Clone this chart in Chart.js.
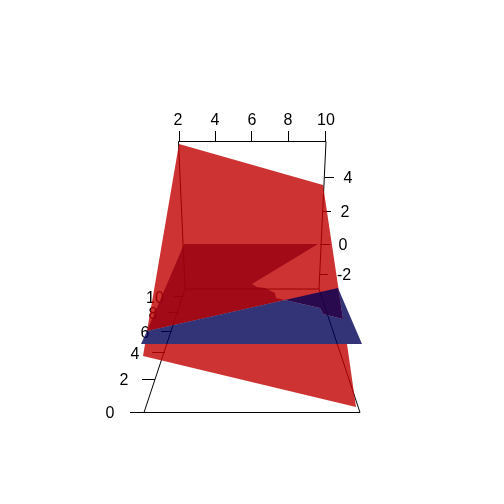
<!DOCTYPE html>
<html>
<head>
<meta charset="utf-8">
<style>
  html, body { margin: 0; padding: 0; background: #fff; }
  canvas { display: block; }
</style>
<script src="https://cdn.jsdelivr.net/npm/chart.js@4/dist/chart.umd.min.js"></script>
</head>
<body>
<canvas id="myChart" width="504" height="504"></canvas>
<script>
// tick labels of the three axes
const xTicks = ['2', '4', '6', '8', '10'];
const yTicks = ['0', '2', '4', '6', '8', '10'];
const zTicks = ['4', '2', '0', '-2'];

// where the labels land on the projected picture plane
const xTickAnchorX = [178, 215, 252, 288, 326];
const xTickAnchorY = [121, 121, 121, 121, 121];
const yTickAnchorX = [110, 124, 135, 145, 153, 155];
const yTickAnchorY = [414, 381, 355, 334, 315, 299];
const zTickAnchorX = [348, 345, 343, 344];
const zTickAnchorY = [179, 213, 246, 276];

// red plane, split above and below the blue band
const redUpperX = [179, 323, 343, 323, 320, 285, 147];
const redUpperY = [144, 185, 319, 314, 308, 300, 331];
const redLowerX = [145, 347, 356, 143];
const redLowerY = [344, 344, 407, 356];

// second red plane, seen through the first
const darkRedX = [184, 318, 252, 257, 265, 275, 276, 285, 147];
const darkRedY = [244, 244, 284, 287, 288, 293, 298, 300, 331];

// blue plane, and the part of it lying over the red
const blueX = [147, 285, 320, 323, 343, 338, 362, 141];
const blueY = [331, 300, 308, 314, 319, 288, 344, 344];
const blueOverRedX = [285, 338, 343, 323, 320];
const blueOverRedY = [300, 288, 319, 314, 308];

// box edges and tick marks, null breaks the line
const boxX = [178.5, 326, 319, 185, 178.5, null, 144, 360, 319, null, 144, 185];
const boxY = [141.5, 141.5, 289, 289, 141.5, null, 412.5, 412.5, 289, null, 412.5, 289];
const tickX = [
  179.5, 179.5, null, 215.5, 215.5, null, 251.5, 251.5, null, 288.5, 288.5, null, 325.5, 325.5, null,
  325, 334, null, 322, 331, null, 320, 330, null, 319, 328, null,
  130, 144, null, 142, 155, null, 152, 165, null, 161, 172, null, 168, 179, null, 174, 183
];
const tickY = [
  131, 141, null, 131, 141, null, 131, 141, null, 131, 141, null, 131, 141, null,
  177.5, 177.5, null, 211.5, 211.5, null, 244.5, 244.5, null, 274.5, 274.5, null,
  412.5, 412.5, null, 379.5, 379.5, null, 352.5, 352.5, null, 331.5, 331.5, null, 312.5, 312.5, null, 296.5, 296.5
];

function toPoints(xs, ys) {
  return xs.map((x, i) => ({ x: x, y: ys[i] }));
}

function polygon(xs, ys, color) {
  const points = toPoints(xs, ys);
  points.push(points[0]);
  return {
    data: points,
    showLine: true,
    fill: 'shape',
    backgroundColor: color,
    borderWidth: 0,
    pointRadius: 0,
    tension: 0,
    clip: false
  };
}

function lines(xs, ys) {
  return {
    data: toPoints(xs, ys),
    showLine: true,
    fill: false,
    borderColor: '#000',
    borderWidth: 1,
    pointRadius: 0,
    tension: 0,
    spanGaps: false,
    clip: false
  };
}

// labels go under the planes, the reference shows them tinted by the red
const tickLabels = {
  id: 'tickLabels',
  beforeDatasetsDraw(chart) {
    const c = chart.ctx;
    const sx = chart.scales.x;
    const sy = chart.scales.y;
    c.save();
    c.fillStyle = '#000';
    c.font = '16px "Liberation Sans"';
    c.textAlign = 'center';
    c.textBaseline = 'middle';
    const put = (labels, xs, ys) => labels.forEach((t, i) => {
      c.fillText(t, sx.getPixelForValue(xs[i]), sy.getPixelForValue(ys[i]));
    });
    put(xTicks, xTickAnchorX, xTickAnchorY);
    put(yTicks, yTickAnchorX, yTickAnchorY);
    put(zTicks, zTickAnchorX, zTickAnchorY);
    c.restore();
  }
};

new Chart(document.getElementById('myChart').getContext('2d'), {
  type: 'scatter',
  data: {
    datasets: [
      lines(boxX, boxY),
      lines(tickX, tickY),
      polygon(redUpperX, redUpperY, 'rgba(192, 0, 0, 0.8)'),
      polygon(redLowerX, redLowerY, 'rgba(192, 0, 0, 0.8)'),
      polygon(darkRedX, darkRedY, 'rgba(152, 0, 16, 0.8)'),
      polygon(blueX, blueY, 'rgba(0, 0, 86, 0.8)'),
      polygon(blueOverRedX, blueOverRedY, 'rgba(0, 0, 86, 0.8)')
    ].map((d, i) => Object.assign(d, { order: 10 - i }))
  },
  options: {
    responsive: false,
    animation: false,
    layout: { padding: 0 },
    plugins: { legend: { display: false }, tooltip: { enabled: false } },
    scales: {
      x: { type: 'linear', min: 0, max: 504, display: false },
      y: { type: 'linear', min: 0, max: 504, reverse: true, display: false }
    }
  },
  plugins: [tickLabels]
});
</script>
</body>
</html>
